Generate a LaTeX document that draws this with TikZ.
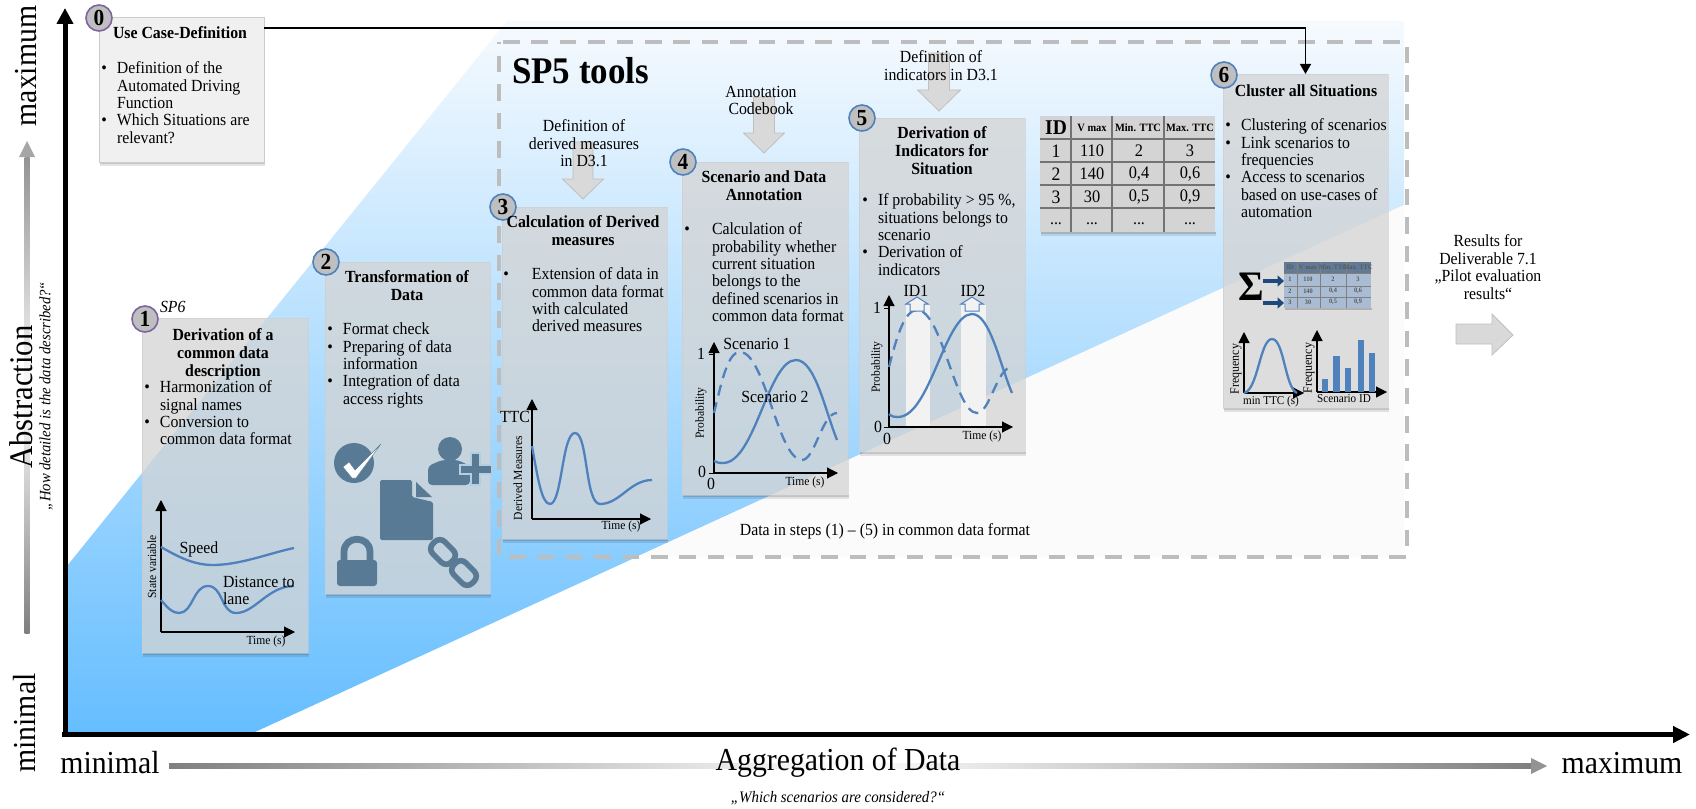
\documentclass[tikz,border=0pt]{standalone}
\usepackage{fontspec}
\setmainfont[FakeStretch=0.93]{Liberation Serif}
\usetikzlibrary{arrows.meta,calc}
\definecolor{lineblue}{HTML}{4F81BD}
\definecolor{icon}{HTML}{587A94}
\definecolor{navy}{HTML}{1F497D}
\definecolor{dashgrey}{HTML}{BDBDBD}
\definecolor{panegrey}{HTML}{D4D4D4}
\definecolor{skyb}{HTML}{66BEFF}
\definecolor{skyt}{HTML}{F6FAFE}
\definecolor{purpleb}{HTML}{8064A2}
\newcommand{\fs}[1]{\fontsize{#1}{#1}\selectfont}
\newcommand{\bu}[1]{\llap{•\hspace{#1pt}}}
\tikzset{
  x=0.5pt,y=-0.5pt,
  every node/.style={inner sep=0pt,outer sep=0pt},
  pane/.style={fill=panegrey,fill opacity=.75,draw=gray!40,draw opacity=.6,line width=.4pt,rectangle,anchor=north west},
  whitepane/.style={fill=white!94!black,draw=gray!40,line width=.4pt,rectangle,anchor=north west},
  tablepane/.style={fill=panegrey,rectangle,anchor=north west},
  badge/.style={circle,minimum size=13pt,fill=gray!50,draw=lineblue,line width=.8pt,font=\bfseries\fs{11.5}},
  badgep/.style={badge,draw=purpleb},
  bodyt/.style={font=\fontsize{8.5}{8.65}\selectfont,align=left,anchor=north west},
  titlet/.style={font=\bfseries\fontsize{8.5}{8.8}\selectfont,align=center,anchor=north},
  ctext/.style={font=\fontsize{8.5}{8.75}\selectfont,align=center,anchor=north},
  smallt/.style={font=\fs{6.2}},
  ax/.style={-{Triangle[length=5.5pt,width=5.5pt]},line width=.55pt,black},
  curve/.style={line width=1.15pt,lineblue},
  dcurve/.style={curve,dash pattern=on 5.5pt off 3.5pt},
  bigarrow/.style={fill=gray!30,draw=gray!50,line width=.4pt},
  conn/.style={-{Triangle[length=5pt,width=5.5pt]},line width=.6pt,black},
  ic/.style={fill=icon,draw=none},
  big/.style={font=\fs{16}},
  gridl/.style={line width=.75pt,gray!90!black},
  mini/.style={font=\bfseries\fs{3.4},text=black!65},
}
\newcommand{\pbox}[6][pane]{%
  \fill[black,opacity=.22] (#3+1,#6) rectangle (#5+1,#6+2);
  \fill[black,opacity=.10] (#3+1,#6+2) rectangle (#5+1,#6+3.5);
  \node[#1,minimum width={(#5-#3)*0.5pt},minimum height={(#6-#4)*0.5pt}] (#2) at (#3,#4) {};
}
\newcommand{\dnarrow}[6]{% cx, top, headY, tip, shaft half, head half
  \path[bigarrow] (#1-#5,#2) -- (#1+#5,#2) -- (#1+#5,#3) -- (#1+#6,#3) -- (#1,#4) -- (#1-#6,#3) -- (#1-#5,#3) -- cycle;
}
\begin{document}
\begin{tikzpicture}
\useasboundingbox (0,0) rectangle (1696,808);
\fill[white] (0,0) rectangle (1696,808);
% gradient field
\shade[top color=skyt,bottom color=skyb] (67,566) -- (507,21) -- (1404,21) -- (1404,205) -- (255,732) -- (67,732) -- cycle;
% slightly grey part of the tools frame below the diagonal
\fill[black!1.5] (636,557) -- (1404,205) -- (1404,557) -- cycle;
% axes
\draw[line width=2.5pt,-{Triangle[length=8pt,width=8pt]}] (65,737) -- (65,8);
\draw[line width=2.5pt,-{Triangle[length=8.5pt,width=8pt]}] (62,734.5) -- (1690,734.5);
% gradient arrows
\shade[top color=gray!85,bottom color=gray,middle color=white] (24.5,157) rectangle (29.5,633);
\fill[gray!70] (19,157) -- (27,141) -- (35,157) -- cycle;
\shade[left color=gray,right color=gray,middle color=white] (169,763.5) rectangle (1531,768.5);
\fill[gray!85] (1531,758) -- (1547,766) -- (1531,774) -- cycle;
% tools frame
\draw[dashgrey,line width=2pt,dash pattern=on 8.3pt off 5.9pt] (503,42) -- (1407,42) -- (1407,557) -- (499,557) -- (499,42);
\node[font=\bfseries\fs{18.8},anchor=west] (sp5) at (512,71) {SP5 tools};
% big arrows
\dnarrow{583}{142}{179}{199}{10}{20.5}
\dnarrow{764}{97}{133}{153}{10.5}{20.5}
\dnarrow{939}{53}{90}{111}{10.5}{21.5}
\path[bigarrow] (1456,324) -- (1492,324) -- (1492,314) -- (1513,335) -- (1492,355) -- (1492,344) -- (1456,344) -- cycle;
% panes
\pbox[whitepane]{box0}{99}{17}{264}{162}
\pbox{box1}{142}{318}{308}{653}
\pbox{box2}{325}{262}{490}{594}
\pbox{box3}{502}{207}{667}{539}
\pbox{box4}{682}{162}{848}{495}
\pbox{box5}{859}{118}{1025}{452}
\pbox{box6}{1223}{74}{1388}{408}
\pbox[tablepane]{tab}{1040}{116}{1215}{232}
% connector from use case to clustering
\coordinate (cstart) at (264,28);
\draw[conn] (box0.east |- cstart) -| (box6.north);
% badges
\node[badgep] (b0) at (99,18) {0};
\node[badgep] (b1) at (145,319) {1};
\node[badge] (b2) at (326,262) {2};
\node[badge] (b3) at (503,207) {3};
\node[badge] (b4) at (683,162) {4};
\node[badge] (b5) at (862,118) {5};
\node[badge] (b6) at (1224,75) {6};
% box 0
\node[titlet] (t0) at (180,27) {Use Case-Definition};
\node[bodyt] (x0) at (117,62) {\bu{5}Definition of the\\Automated Driving\\Function\\\bu{5}Which Situations are\\relevant?};
% box 1
\node[font=\itshape\fs{8.5},anchor=west] (sp6) at (160,307) {SP6};
\node[titlet] (t1) at (223,329) {Derivation of a\\common data\\description};
\node[bodyt] (x1) at (160,381) {\bu{5}Harmonization of\\signal names\\\bu{5}Conversion to\\common data format};
\draw[ax] (161,632) -- (161,500);
\draw[ax] (161,632) -- (295,632);
\draw[curve] (161,547) .. controls (180,558) and (195,565) .. (213,565) .. controls (240,565) and (270,553) .. (294,548);
\draw[curve] (161,600) .. controls (168,608) and (172,613) .. (179,613) .. controls (193,613) and (193,586) .. (208,586) .. controls (223,586) and (221,613) .. (236,613) .. controls (255,613) and (268,586) .. (294,586);
\node[smallt,rotate=90] (l1a) at (152,567) {State variable};
\node[font=\fs{8.5}] (l1b) at (199,549) {Speed};
\node[bodyt] (l1c) at (223,576) {Distance to\\lane};
\node[smallt] (l1d) at (266,642) {Time (s)};
% box 2
\node[titlet] (t2) at (407,271) {Transformation of\\Data};
\node[bodyt] (x2) at (343,323) {\bu{5}Format check\\\bu{5}Preparing of data\\information\\\bu{5}Integration of data\\access rights};
\fill[icon] (354,463) circle (10pt);
\fill[white,draw=icon,line width=.2pt] (343,467) -- (349,462) -- (355,470) -- (381,444) -- (356,478) -- (352,478) -- cycle;
\fill[ic] (450,449) circle (6pt);
\fill[ic,rounded corners=2pt] (428,485) -- (428,466) -- (442,460) -- (458,460) -- (470,466) -- (470,485) -- cycle;
\fill[ic,draw=panegrey!70!skyb,line width=.8pt] (471,453) -- (480,453) -- (480,465) -- (492,465) -- (492,474) -- (480,474) -- (480,485) -- (471,485) -- (471,474) -- (460,474) -- (460,465) -- (471,465) -- cycle;
\fill[ic,rounded corners=.8pt] (380,480) -- (412,480) -- (412,497) -- (433,502) -- (433,540) -- (380,540) -- cycle;
\fill[ic] (416,482) -- (432,497) -- (416,497) -- cycle;
\draw[icon,line width=3.4pt] (344,562) -- (344,552) .. controls (344,535) and (370,535) .. (370,552) -- (370,562);
\fill[ic,rounded corners=1.5pt] (337,560) rectangle (377,586);
\node[draw=icon,line width=2.8pt,rounded corners=3.5pt,rotate=-45,minimum width=13pt,minimum height=8.5pt] (link1) at (443,552) {};
\node[draw=icon,line width=2.8pt,rounded corners=3.5pt,rotate=-45,minimum width=13pt,minimum height=8.5pt] (link2) at (464,573) {};
% box 3
\node[titlet] (t3) at (583,216) {Calculation of Derived\\measures};
\node[bodyt] (x3) at (532,268) {\bu{11.5}Extension of data in\\common data format\\with calculated\\derived measures};
\node[ctext] (a3) at (584,120) {Definition of\\derived measures\\in D3.1};
\draw[ax] (532,519) -- (532,399);
\draw[ax] (532,519) -- (651,519);
\draw[curve] (532,446) .. controls (538,480) and (542,504) .. (550,504) .. controls (562,504) and (562,433) .. (575,433) .. controls (588,433) and (585,504) .. (600,504) .. controls (620,504) and (630,480) .. (652,480);
\node[font=\fs{8.5}] (l3a) at (515,417) {TTC};
\node[smallt,rotate=90] (l3b) at (518,478) {Derived Measures};
\node[smallt] (l3c) at (621,527) {Time (s)};
% box 4
\node[titlet] (t4) at (764,171) {Scenario and Data\\Annotation};
\node[bodyt] (x4) at (712,223) {\bu{11}Calculation of\\probability whether\\current situation\\belongs to the\\defined scenarios in\\common data format};
\node[ctext] (a4) at (761,86) {Annotation\\Codebook};
\draw[ax] (714,473) -- (714,342);
\draw[ax] (714,473) -- (838,473);
\draw[line width=.5pt] (709,354) -- (714,354) (709,473) -- (714,473);
\draw[curve] (714,461) .. controls (717,463) and (720,463) .. (723,463) .. controls (755,463) and (768,360) .. (796,360) .. controls (815,360) and (825,410) .. (837,440);
\draw[dcurve] (714,413) .. controls (722,380) and (728,352) .. (740,352) .. controls (765,352) and (778,460) .. (802,460) .. controls (815,460) and (822,413) .. (837,413);
\node[font=\fs{8.5}] (l4a) at (701,354) {1};
\node[font=\fs{8.5}] (l4b) at (702,472) {0};
\node[font=\fs{8.5}] (l4c) at (711,484) {0};
\node[smallt,rotate=90] (l4d) at (701,413) {Probability};
\node[smallt] (l4e) at (805,483) {Time (s)};
\node[font=\fs{8.5}] (l4f) at (757,344) {Scenario 1};
\node[font=\fs{8.5}] (l4g) at (775,397) {Scenario 2};
% box 5
\node[titlet] (t5) at (942,127) {Derivation of\\Indicators for\\Situation};
\node[bodyt] (x5) at (878,194) {\bu{5}If probability > 95 \%,\\situations belongs to\\scenario\\\bu{5}Derivation of\\indicators};
\node[ctext] (a5) at (941,51) {Definition of\\indicators in D3.1};
\fill[black!5] (906,305) rectangle (930,427);
\fill[black!5] (961,305) rectangle (986,427);
\draw[ax] (889,427) -- (889,295);
\draw[ax] (889,427) -- (1013,427);
\draw[line width=.5pt] (884,308) -- (889,308) (884,427) -- (889,427);
\draw[curve] (889,414) .. controls (892,417) and (895,417) .. (898,417) .. controls (930,417) and (945,314) .. (972,314) .. controls (990,314) and (1000,365) .. (1012,393);
\draw[dcurve] (889,367) .. controls (897,335) and (905,310) .. (917,310) .. controls (942,310) and (955,413) .. (977,413) .. controls (990,413) and (997,367) .. (1012,367);
\foreach \cx in {917,972}{
  \draw[lineblue,line width=.5pt,fill=black!5] (\cx-7,311) -- (\cx-7,304) -- (\cx-11,304) -- (\cx,297) -- (\cx+11,304) -- (\cx+7,304) -- (\cx+7,311) -- cycle;
}
\node[font=\fs{8.5}] (l5a) at (916,291) {ID1};
\node[font=\fs{8.5}] (l5b) at (973,291) {ID2};
\node[font=\fs{8.5}] (l5c) at (877,308) {1};
\node[font=\fs{8.5}] (l5d) at (878,427) {0};
\node[font=\fs{8.5}] (l5e) at (887,439) {0};
\node[smallt,rotate=90] (l5f) at (877,367) {Probability};
\node[smallt] (l5g) at (982,437) {Time (s)};
% table
\foreach \yy in {139,162,185,208} \draw[gridl] (1040,\yy) -- (1215,\yy);
\foreach \xx in {1071,1112,1164} \draw[gridl] (\xx,116) -- (\xx,232);
\node[font=\bfseries\fs{10.5}] (h1) at (1056,128) {ID};
\node[font=\bfseries\fs{5.6}] (h2) at (1092,128) {V max};
\node[font=\bfseries\fs{5.6}] (h3) at (1138,128) {Min. TTC};
\node[font=\bfseries\fs{5.6}] (h4) at (1190,128) {Max. TTC};
\foreach \yy/\a/\b/\c/\d in {151/1/110/2/3,174/2/140/{0,4}/{0,6},197/3/30/{0,5}/{0,9}}{
  \node[font=\fs{9.5}] (ra\yy) at (1056,\yy) {\a};
  \node[font=\fs{8.8}] (rb\yy) at (1092,\yy) {\b};
  \node[font=\fs{8.8}] (rc\yy) at (1139,\yy) {\c};
  \node[font=\fs{8.8}] (rd\yy) at (1190,\yy) {\d};
}
\node[font=\fs{8.5}] (ra4) at (1056,224) {...};
\node[font=\fs{8.5}] (rb4) at (1092,224) {...};
\node[font=\fs{8.5}] (rc4) at (1139,224) {...};
\node[font=\fs{8.5}] (rd4) at (1190,224) {...};
% box 6
\node[titlet] (t6) at (1306,85) {Cluster all Situations};
\node[bodyt] (x6) at (1241,119) {\bu{5}Clustering of scenarios\\\bu{5}Link scenarios to\\frequencies\\\bu{5}Access to scenarios\\based on use-cases of\\automation};
\node[font=\bfseries\fs{21}] (sigma) at (1251,287) {Σ};
\fill[black,opacity=.2] (1285,308) rectangle (1372,310);
\fill[fill=black!40!lineblue!75!white] (1284,262) rectangle (1371,273);
\fill[fill=lineblue!45!white!85!gray] (1284,273) rectangle (1371,308);
\foreach \xx in {1297,1320,1346} \draw[gray,line width=.4pt] (\xx,262) -- (\xx,308);
\foreach \yy in {273,286,297} \draw[gray,line width=.4pt] (1284,\yy) -- (1371,\yy);
\draw[navy,line width=2.1pt,-{Triangle[length=3.2pt,width=5.5pt]}] (1263,281) -- (1284,281);
\draw[navy,line width=2.1pt,-{Triangle[length=3.2pt,width=5.5pt]}] (1263,303) -- (1284,303);
\foreach \xx/\t [count=\n] in {1290/ID,1308/V max,1333/Min. TTC,1358/Max. TTC}{\node[mini] (mh\n) at (\xx,267) {\t};}
\foreach \yy/\a/\b/\c/\d in {279/1/110/2/3,291/2/140/{0,4}/{0,6},302/3/30/{0,5}/{0,9}}{
  \node[mini] (ma\yy) at (1290,\yy) {\a};
  \node[mini] (mb\yy) at (1308,\yy) {\b};
  \node[mini] (mc\yy) at (1333,\yy) {\c};
  \node[mini] (md\yy) at (1358,\yy) {\d};
}
\draw[ax] (1244,393) -- (1244,332);
\draw[ax] (1244,393) -- (1304,393);
\draw[curve] (1244,393) .. controls (1258,390) and (1260,339) .. (1272,339) .. controls (1284,339) and (1285,388) .. (1297,393);
\node[font=\fs{6.4},rotate=90] (l6a) at (1236,369) {Frequency};
\node[font=\fs{6}] (l6b) at (1271,402) {min TTC (s)};
\draw[ax] (1317,392) -- (1317,330);
\draw[ax] (1317,392) -- (1387,392);
\foreach \xa/\xb/\yy in {1322/1328/379,1333/1340/356,1345/1351/368,1358/1364/340,1369/1375/353}{\fill[lineblue] (\xa,\yy) rectangle (\xb,392);}
\node[font=\fs{6.4},rotate=90] (l6c) at (1309,368) {Frequency};
\node[font=\fs{6}] (l6d) at (1344,399) {Scenario ID};
% free labels
\node[font=\fs{8.5}] (dat) at (885,531) {Data in steps (1) – (5) in common data format};
\node[ctext] (res) at (1488,235) {Results for\\Deliverable 7.1\\„Pilot evaluation\\results“};
\node[big,rotate=90] (ymax) at (26,66) {maximum};
\node[big,rotate=90] (ymin) at (25,723) {minimal};
\node[font=\fs{16.5},rotate=90] (ytit) at (21,397) {Abstraction};
\node[font=\itshape\fs{7.9},rotate=90] (ysub) at (46,396) {„How detailed is the data described?“};
\node[big] (xmin) at (110,763) {minimal};
\node[big] (xmax) at (1622,763) {maximum};
\node[big] (xtit) at (838,763) {Aggregation of Data};
\node[font=\itshape\fs{8}] (xsub) at (838,798) {„Which scenarios are considered?“};
\end{tikzpicture}
\end{document}
